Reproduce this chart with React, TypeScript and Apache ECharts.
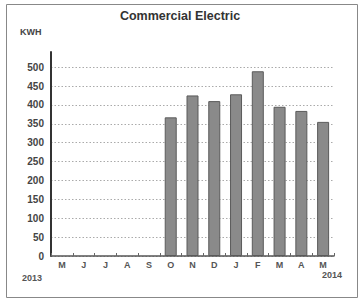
import React, { useEffect, useRef } from "react";
import * as echarts from "echarts";

const months = ["M", "J", "J", "A", "S", "O", "N", "D", "J", "F", "M", "A", "M"];
const kwh: (number | null)[] = [null, null, null, null, null, 367, 425, 410, 428, 489, 395, 384, 355];
const yearLabels = ["2013", "2014"];
const titleText = "Commercial Electric";
const unitText = "KWH";

export default function App() {
  const ref = useRef<HTMLDivElement>(null);
  useEffect(() => {
    const chart = echarts.init(ref.current!, null, { renderer: "svg" });
    chart.setOption({
      animation: false,
      backgroundColor: "#fff",
      textStyle: { fontFamily: "Liberation Sans, Arial, sans-serif" },
      title: {
        text: titleText,
        left: "center",
        top: 4,
        textStyle: { fontSize: 12.5, fontWeight: "bold", color: "#333" },
      },
      grid: { left: 51, right: 26, top: 52, bottom: 46 },
      xAxis: {
        type: "category",
        data: months,
        axisLine: { lineStyle: { color: "#555", width: 1.5 } },
        axisTick: { show: true, length: 3, inside: true, lineStyle: { color: "#666" } },
        axisLabel: { fontSize: 9, fontWeight: "bold", color: "#555", margin: 4 },
      },
      yAxis: {
        type: "value",
        min: 0,
        max: 540,
        interval: 50,
        axisLine: { show: true, lineStyle: { color: "#333", width: 2 } },
        axisTick: { show: false },
        axisLabel: {
          fontSize: 10,
          fontWeight: "bold",
          color: "#444",
          margin: 7,
          showMaxLabel: false,
          padding: [0, 0, 8, 0],
          formatter: (v: number) => (v % 50 === 0 ? String(v) : ""),
        },
        splitLine: {
          showMaxLine: false,
          lineStyle: { color: "#aaa", type: [1.5, 2], width: 1 },
        },
      },
      series: [
        {
          type: "bar",
          data: kwh,
          barWidth: 12,
          itemStyle: { color: "#8a8a8a", borderColor: "#5a5a5a", borderWidth: 1 },
        },
      ],
      graphic: [
        {
          type: "rect",
          shape: { x: 6.5, y: 4.5, width: 351, height: 293 },
          style: { fill: "none", stroke: "#888", lineWidth: 1 },
          silent: true,
        },
        {
          type: "text",
          left: 20,
          top: 27,
          style: { text: unitText, fontSize: 9, fontWeight: "bold", fill: "#444", fontFamily: "Liberation Sans, Arial, sans-serif" },
        },
        {
          type: "text",
          left: 22,
          top: 273,
          style: { text: yearLabels[0], fontSize: 9, fontWeight: "bold", fill: "#555", fontFamily: "Liberation Sans, Arial, sans-serif" },
        },
        {
          type: "text",
          left: 322,
          top: 270,
          style: { text: yearLabels[1], fontSize: 9, fontWeight: "bold", fill: "#555", fontFamily: "Liberation Sans, Arial, sans-serif" },
        },
      ],
    });
    return () => chart.dispose();
  }, []);
  return <div ref={ref} style={{ width: 360, height: 302, position: "absolute", left: 0, top: 0 }} />;
}
